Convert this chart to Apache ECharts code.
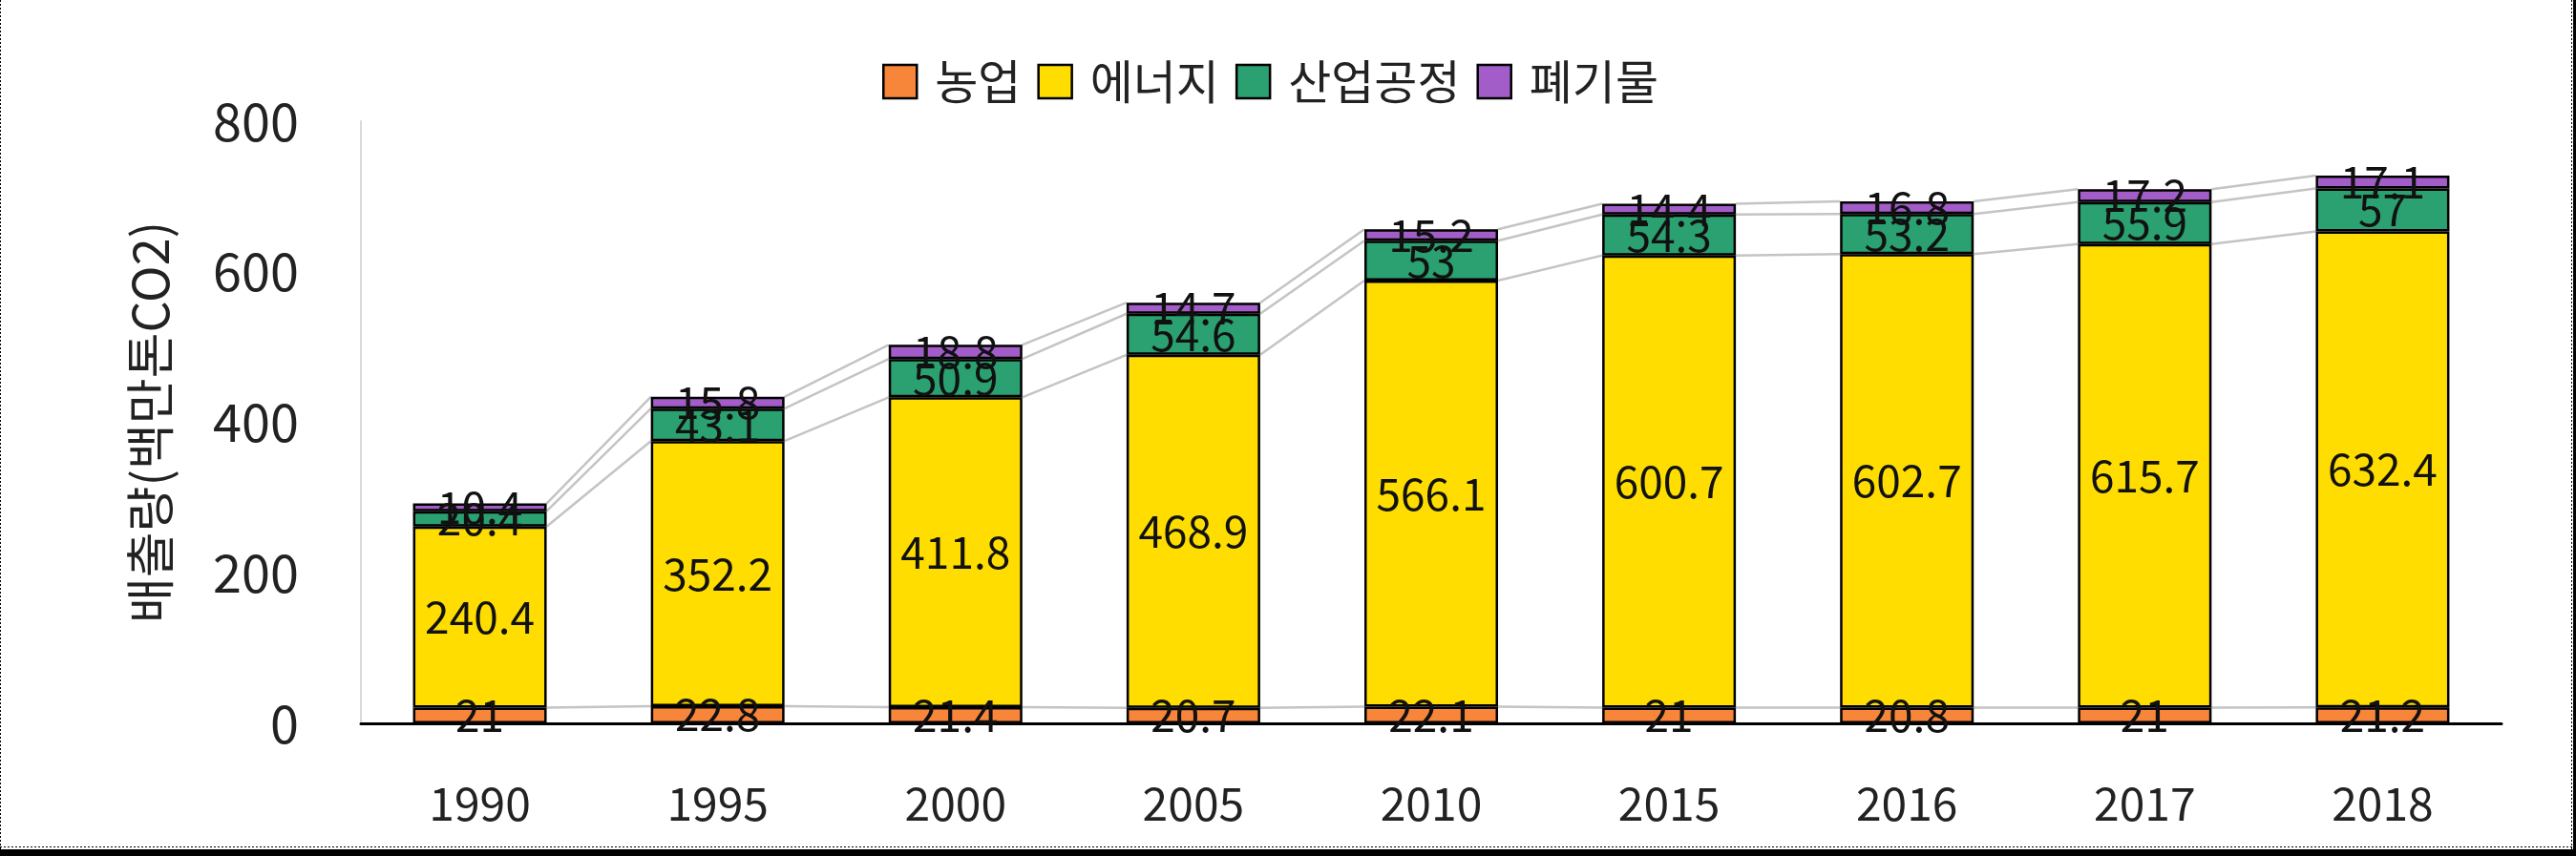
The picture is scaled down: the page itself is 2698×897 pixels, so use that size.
<!DOCTYPE html>
<html>
<head>
<meta charset="utf-8">
<script src="https://cdn.jsdelivr.net/npm/echarts@6/dist/echarts.min.js"></script>
<style>
  html, body { margin: 0; padding: 0; background: #fff; }
  #chart { width: 2698px; height: 897px; }
</style>
</head>
<body>
<div id="chart"></div>
<script>
// ---- data ----
const categories = ['1990', '1995', '2000', '2005', '2010', '2015', '2016', '2017', '2018'];
const seriesNames = ['농업', '에너지', '산업공정', '폐기물'];
const agriculture = [21, 22.8, 21.4, 20.7, 22.1, 21, 20.8, 21, 21.2];
const energy = [240.4, 352.2, 411.8, 468.9, 566.1, 600.7, 602.7, 615.7, 632.4];
const industry = [20.4, 43.1, 50.9, 54.6, 53, 54.3, 53.2, 55.9, 57];
const waste = [10.4, 15.8, 18.8, 14.7, 15.2, 14.4, 16.8, 17.2, 17.1];
const yTicks = [0, 200, 400, 600, 800];
const yAxisName = '배출량(백만톤CO2)';

// ---- styles ----
const colors = ['#F7853A', '#FFDD00', '#2BA070', '#A35DC8'];
const FONT = "'Noto Sans CJK KR', 'Noto Sans', sans-serif";
const BAR_W = 140;

const chart = echarts.init(document.getElementById('chart'));

const valueSets = [agriculture, energy, industry, waste];

// cumulative tops for series lines
const cumulative = [];
let running = categories.map(() => 0);
valueSets.forEach(vals => {
  running = running.map((r, i) => r + vals[i]);
  cumulative.push(running.slice());
});

const barSeries = valueSets.map((vals, k) => ({
  name: seriesNames[k],
  type: 'bar',
  stack: 'total',
  barWidth: BAR_W,
  data: vals,
  z: 3,
  itemStyle: { color: colors[k], borderColor: '#000', borderWidth: 2.5 },
  label: {
    show: true,
    position: 'inside',
    color: '#111',
    fontSize: 46,
    fontFamily: FONT
  }
}));

const lineSeries = cumulative.map((cum, k) => ({
  type: 'custom',
  name: 'serieslines' + k,
  silent: true,
  z: 1,
  data: categories.slice(0, -1).map((c, i) => [i, cum[i], cum[i + 1]]),
  encode: { x: 0, y: [1, 2] },
  renderItem: function (params, api) {
    const i = api.value(0);
    const p0 = api.coord([i, api.value(1)]);
    const p1 = api.coord([i + 1, api.value(2)]);
    return {
      type: 'line',
      shape: { x1: p0[0] + BAR_W / 2, y1: p0[1], x2: p1[0] - BAR_W / 2, y2: p1[1] },
      style: { stroke: '#C4C4C4', lineWidth: 2.5 }
    };
  }
}));

chart.setOption({
  animation: false,
  backgroundColor: '#fff',
  textStyle: { fontFamily: FONT },
  legend: {
    data: seriesNames,
    left: 919,
    top: 56,
    itemWidth: 35,
    itemHeight: 35,
    itemGap: 17,
    icon: 'rect',
    itemStyle: { borderColor: '#000', borderWidth: 2.5 },
    textStyle: { fontSize: 49, color: '#222', fontFamily: FONT, padding: [0, 0, 0, 14] }
  },
  grid: { left: 378, right: 78, top: 127, bottom: 139, containLabel: false },
  xAxis: {
    type: 'category',
    data: categories,
    axisLine: { lineStyle: { color: '#000', width: 3 } },
    axisTick: { show: false },
    axisLabel: { fontSize: 48, color: '#222', margin: 60, fontFamily: FONT }
  },
  yAxis: {
    type: 'value',
    min: yTicks[0],
    max: yTicks[yTicks.length - 1],
    interval: yTicks[1] - yTicks[0],
    name: yAxisName,
    nameLocation: 'middle',
    nameRotate: 90,
    nameGap: 195,
    nameTextStyle: { fontSize: 52, color: '#222', fontFamily: FONT },
    axisLine: { show: true, lineStyle: { color: '#D9D9D9', width: 2 } },
    axisTick: { show: false },
    splitLine: { show: false },
    axisLabel: { fontSize: 54, color: '#222', margin: 65, fontFamily: FONT }
  },
  graphic: [
    { type: 'line', shape: { x1: 0.5, y1: 0, x2: 0.5, y2: 897 }, style: { stroke: '#000', lineWidth: 1, lineDash: [2, 2] } },
    { type: 'line', shape: { x1: 0, y1: 887.5, x2: 2698, y2: 887.5 }, style: { stroke: '#000', lineWidth: 1, lineDash: [2, 2] } },
    { type: 'rect', shape: { x: 0, y: 890, width: 2698, height: 7 }, style: { fill: '#000' } },
    { type: 'line', shape: { x1: 2693.5, y1: 0, x2: 2693.5, y2: 897 }, style: { stroke: '#000', lineWidth: 1, lineDash: [2, 2] } },
    { type: 'rect', shape: { x: 2695, y: 0, width: 3, height: 897 }, style: { fill: '#000' } }
  ],
  series: lineSeries.concat(barSeries)
});
</script>
</body>
</html>
